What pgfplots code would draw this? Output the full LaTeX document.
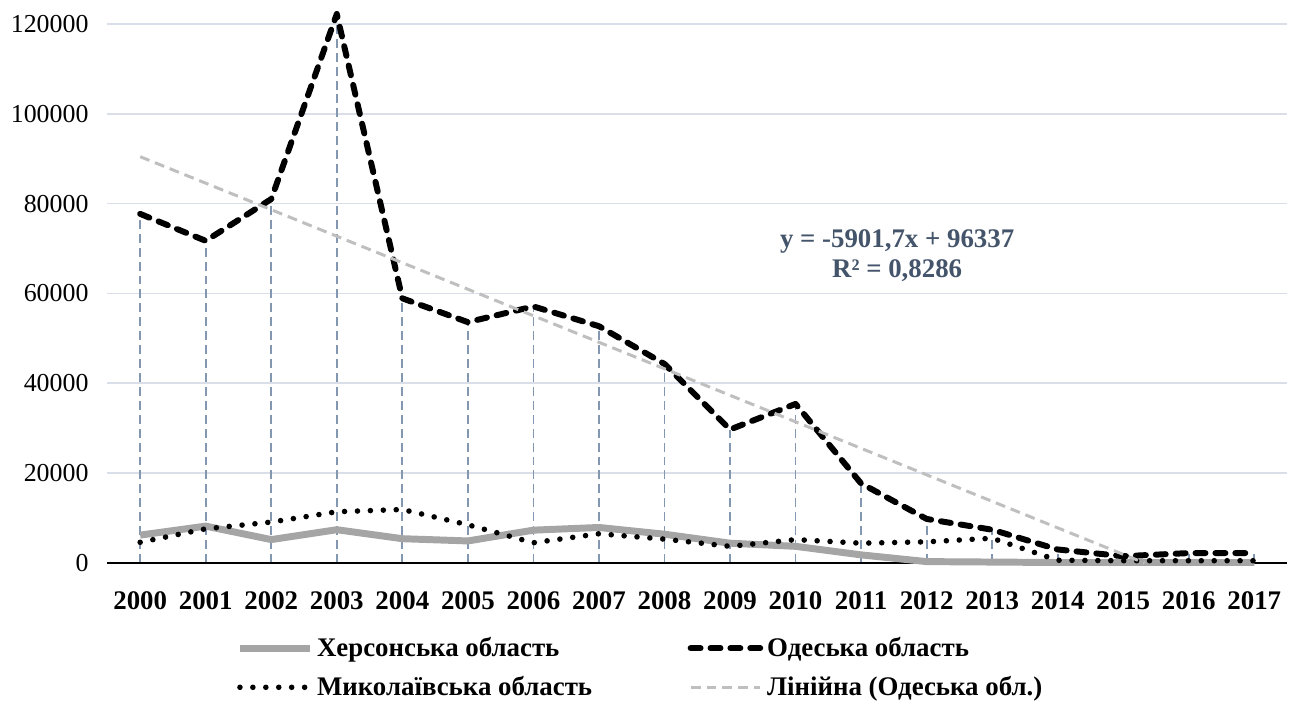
\documentclass[border=0pt]{standalone}
\usepackage{pgfplots}
\pgfplotsset{compat=1.18}
\usepackage{fontspec}
\setmainfont{Liberation Serif}
\definecolor{gridc}{HTML}{D9DEE8}
\definecolor{dropc}{HTML}{8497B0}
\definecolor{khers}{HTML}{A5A5A5}
\definecolor{trendc}{HTML}{BFBFBF}
\definecolor{eqc}{HTML}{44546A}
\begin{document}
\begin{tikzpicture}
\begin{axis}[
  scale only axis,
  width=593pt, height=271pt,
  xmin=-0.5, xmax=17.5,
  ymin=0, ymax=120000,
  clip=false,
  scaled y ticks=false,
  axis line style={draw=none},
  ymajorgrids, major grid style={gridc, line width=0.8pt},
  xtick={0,...,17},
  xticklabels={2000,2001,2002,2003,2004,2005,2006,2007,2008,2009,2010,2011,2012,2013,2014,2015,2016,2017},
  ytick={0,20000,40000,60000,80000,100000,120000},
  yticklabels={0,20000,40000,60000,80000,100000,120000},
  tick style={draw=none},
  ticklabel style={font=\fontsize{13}{15}\selectfont},
  xticklabel style={font=\fontsize{13.5}{15}\selectfont\bfseries, yshift=-11pt},
  yticklabel style={xshift=-6pt},
  legend columns=2,
  legend cell align=left,
  legend style={draw=none, at={(0.104,-0.122)}, anchor=north west,
    font=\fontsize{13.5}{15}\selectfont\bfseries, row sep=4.5pt,
    /tikz/every even column/.append style={column sep=46pt}},
  legend image code/.code={\draw[#1] (0pt,0pt) -- (35pt,0pt);},
]
% drop lines
\addplot[ycomb, dropc, line width=0.9pt, dash pattern=on 4.5pt off 2.5pt, forget plot] coordinates {
(0,77700)(1,71700)(2,81000)(3,122200)(4,58900)(5,53600)(6,57100)(7,52700)(8,44300)(9,29700)(10,35400)(11,17700)(12,9800)(13,7400)(14,3000)(15,1500)(16,2200)(17,2200)};
% x axis line
\draw[black, line width=1.3pt] (axis cs:-0.5,0) -- (axis cs:17.5,0);
\addplot[khers, line width=3.5pt, line join=round] coordinates {
(0,6200)(1,8200)(2,5200)(3,7400)(4,5400)(5,4900)(6,7300)(7,7900)(8,6400)(9,4400)(10,3700)(11,1800)(12,300)(13,200)(14,100)(15,100)(16,100)(17,100)};
\addlegendentry{Херсонська область}
\addplot[black, line width=3pt, dash pattern=on 5pt off 5pt, line cap=round, line join=round] coordinates {
(0,77700)(1,71700)(2,81000)(3,122200)(4,58900)(5,53600)(6,57100)(7,52700)(8,44300)(9,29700)(10,35400)(11,17700)(12,9800)(13,7400)(14,3000)(15,1500)(16,2200)(17,2200)};
\addlegendentry{Одеська область}
\addplot[black, line width=2.8pt, dash pattern=on 0pt off 6.5pt, line cap=round] coordinates {
(0,4600)(1,7600)(2,9100)(3,11400)(4,11900)(5,8500)(6,4500)(7,6500)(8,5300)(9,3700)(10,5200)(11,4400)(12,4700)(13,5500)(14,600)(15,500)(16,500)(17,500)};
\addlegendentry{Миколаївська область}
\addplot[trendc, line width=1.5pt, dash pattern=on 5pt off 3pt] coordinates {
(0,90435.3)(15.324,0)};
\addlegendentry{Лінійна (Одеська обл.)}
\node[eqc, font=\fontsize{13.5}{15}\selectfont\bfseries, align=center] at (axis cs:11.55,68400) {y = -5901,7x + 96337\\R² = 0,8286};
\end{axis}
\pgfresetboundingbox
\useasboundingbox ([xshift=-54pt,yshift=-69pt]current axis.south west) rectangle ([xshift=6pt,yshift=12pt]current axis.north east);
\end{tikzpicture}
\end{document}
